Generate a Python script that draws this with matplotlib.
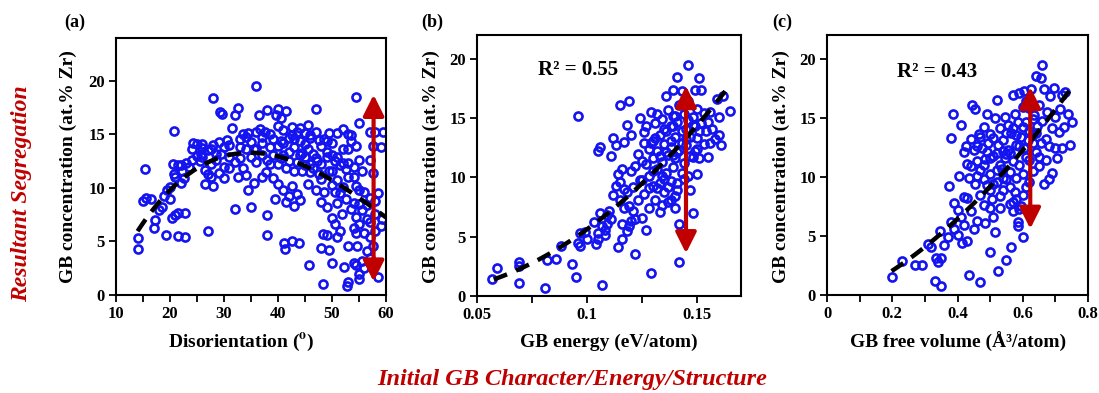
import numpy as np
import matplotlib
matplotlib.use("Agg")
import matplotlib.pyplot as plt
from matplotlib.ticker import MultipleLocator

plt.rcParams['font.family'] = ['Liberation Serif', 'DejaVu Serif']
plt.rcParams['font.weight'] = 'bold'
plt.rcParams['mathtext.fontset'] = 'stix'

# ---------------- data ----------------
# (a) disorientation (deg) vs GB concentration (at.% Zr)
dis_pts = [
    (14, 5.3), (14, 4.3), (15.3, 11.8), (15, 8.8), (15.5, 9.1), (16.5, 9.0), (17, 6.3), (17.3, 7), (18, 7.9),
    (18.5, 8.2), (18.8, 9.2), (19.2, 5.6), (19.5, 9.8), (20, 10.1), (20, 9), (20.3, 7.2), (20.5, 12.2),
    (20.8, 11.3), (20.7, 15.3), (20.9, 7.5), (21, 11), (21.5, 12.1), (21.5, 7.7), (21.5, 5.5), (22, 10.5),
    (22, 12.1), (22.3, 11.6), (22.5, 10.9), (22.7, 5.4), (22.8, 7.7), (23, 12.3), (23.5, 12), (24, 13.6),
    (24.3, 14.2), (25, 14.1), (25.5, 12.5), (25.7, 13.2), (26, 12.9), (26, 14.1), (26.5, 11.7), (26.5, 10.4),
    (27, 13.5), (27, 11.3), (27, 6), (27.5, 12.2), (27.5, 11), (28, 10.2), (28, 14), (28, 18.4), (28.5, 13.2),
    (28.5, 12.6), (29, 14.3), (29, 11.4), (29.2, 17.1), (29.6, 16.9), (30, 13.8), (30, 12), (30, 10.9),
    (30.5, 14.5), (31, 14), (31, 11.9), (31.5, 15.6), (32, 12.4), (32, 16.8), (32, 8), (32.5, 17.5), (32.5, 11),
    (33, 14.6), (33, 12.8), (33.5, 15), (33.5, 11.9), (34, 13.6), (34, 11.2), (34.5, 9.8), (34.5, 15.1),
    (35, 8.2), (35, 12.9), (35, 14.3), (35.5, 13.6), (35.5, 10.5), (36, 19.5), (36, 15.2), (36, 12.4),
    (36.5, 16.8), (36.7, 15.5), (37, 14.2), (37, 11), (37, 13.1), (37.5, 15.2), (37.8, 11.5), (38, 7.5),
    (38, 5.6), (38, 17.3), (38.5, 13.8), (38.5, 12.2), (39, 14.6), (39, 10.9), (39.5, 9), (39.7, 16.8),
    (40, 17.4), (40, 15.8), (40, 13.9), (40, 12.2), (40, 10.4), (40.5, 16.5), (40.5, 14.4), (41, 9.8),
    (41, 13.1), (41, 15.4), (41.2, 4.9), (41.3, 4.3), (41.5, 17.2), (41.5, 11.9), (41.5, 8.7), (42, 14.7),
    (42, 12.5), (42, 9.2), (42.5, 15.7), (42.5, 10.2), (42.5, 5), (43, 13.8), (43, 11.6), (43, 8.3),
    (43.5, 15.2), (43.5, 12.4), (43.5, 9.4), (43.8, 4.9), (44, 14.4), (44, 8.9), (44.5, 13.3), (44.5, 11.6),
    (45, 15.1), (45, 12.1), (45, 14.1), (45.5, 15.9), (45.5, 13.6), (45.5, 10.4), (45.8, 2.8), (46, 14.7),
    (46, 12.2), (46, 11.5), (46.5, 13.2), (47, 17.4), (47, 15.2), (47, 9.8), (47.2, 12.5), (47.5, 14.5),
    (47.5, 11.3), (48, 13.9), (48, 10.8), (48, 8.7), (48, 4.4), (48.3, 5.7), (48.4, 1), (48.5, 14.6),
    (48.5, 9.6), (49, 12.9), (49, 8.2), (49, 5.6), (49.5, 15.1), (49.5, 11.6), (49.5, 4.2), (50, 14.2),
    (50, 10.3), (50, 7.2), (50, 3), (50.5, 12.5), (50.5, 9.6), (50.5, 6.6), (51, 15.1), (51, 10.7), (51, 8.6),
    (51, 5.4), (51.5, 12.1), (51.5, 9.5), (51.5, 6), (51.8, 7.6), (52, 15.5), (52, 13.6), (52, 10.1),
    (52.3, 2.6), (52.5, 11.8), (52.5, 9), (52.8, 0.8), (53, 15), (53, 13.6), (53, 11), (53, 4.6), (53, 1.2),
    (53.5, 14.4), (53.5, 8), (53.5, 14.9), (54, 12), (54, 8.6), (54, 6.3), (54, 3), (54.5, 18.5), (54.5, 13.9),
    (54.5, 10.2), (54.5, 7.3), (54.5, 5.8), (54.5, 2.8), (54.7, 4.6), (55, 16.1), (55, 12.6), (55, 9.8),
    (55, 8.5), (55, 6.6), (55, 1.5), (55, 2), (55.5, 11.6), (55.5, 7.9), (55.5, 3.2), (56, 9.6), (56, 5.8),
    (56, 2.5), (56.5, 8.4), (56.5, 7.1), (56.5, 4.1), (57, 15.2), (57, 12.6), (57, 9.1), (57, 6.8), (57, 5.4),
    (57, 3.5), (57.5, 13.9), (57.5, 11.4), (57.5, 4.6), (58, 8.8), (58, 7.6), (58, 6), (58, 15.2), (58.5, 9.5),
    (58.5, 1.7), (59, 13.8), (59, 6.4), (59.5, 15.2), (59.3, 7.1),
    (38.5, 15), (39, 13.1), (40.5, 12.8), (41, 14.2), (42, 13.4), (42.5, 14.9), (43, 14.6), (44, 13.1),
    (44, 15.6), (45, 12.9), (46, 14.9), (46.5, 11.9), (47, 12.8), (48, 12.2), (49, 14.4), (49, 13.4),
    (50, 13.1), (50, 11.6), (51, 12.9), (52, 12.3), (53, 12.3), (54, 11), (33, 13.8), (34, 14.8), (36, 13.6),
    (37, 14.8), (38, 12.6), (31, 12.9), (29.5, 13.2), (27.5, 13.6), (26, 13.7), (25, 13), (24, 12.6),
]
dis_x = [p[0] for p in dis_pts]
dis_y = [p[1] for p in dis_pts]
# trend line (a)
dis_fit_x = [14, 18.7, 23.7, 29.9, 34.8, 43.1, 49.3, 54.9, 60]
dis_fit_y = [5.9, 9.2, 11.4, 12.8, 13.4, 12.4, 10.9, 9.2, 7.2]

# (b) GB energy (eV/atom) vs GB concentration
en_pts = [
    (0.057, 1.4), (0.059, 2.4), (0.069, 1.1), (0.069, 2.5), (0.069, 2.9), (0.081, 0.7), (0.082, 3), (0.086, 3.1),
    (0.088, 4.2), (0.093, 2.7), (0.095, 1.6), (0.096, 15.2), (0.096, 4.5), (0.097, 4.2), (0.097, 5.3),
    (0.099, 5.4), (0.1, 4.8), (0.103, 6.2), (0.104, 4.4), (0.105, 5.3), (0.105, 4.8), (0.105, 12.2), (0.106, 7),
    (0.106, 12.6), (0.107, 0.9), (0.108, 5.6), (0.108, 5.1), (0.109, 6.1), (0.11, 7.2), (0.111, 11.8),
    (0.112, 13.3), (0.113, 12.7), (0.114, 4.1), (0.114, 10.3), (0.115, 9.6), (0.115, 16.1), (0.116, 4.8),
    (0.116, 6.1), (0.117, 7.4), (0.117, 13), (0.118, 5.5), (0.118, 8.8), (0.118, 14.4), (0.119, 16.4),
    (0.119, 5.9), (0.12, 6.3), (0.12, 10.5), (0.12, 13.6), (0.121, 9.2), (0.122, 6.5), (0.122, 3.5),
    (0.123, 8.1), (0.123, 12), (0.124, 9.8), (0.124, 15), (0.125, 6.6), (0.125, 11.4), (0.126, 13.8),
    (0.126, 8.6), (0.127, 5.6), (0.127, 14.3), (0.128, 10.1), (0.128, 12.4), (0.128, 7.4), (0.129, 1.9),
    (0.129, 15.5), (0.13, 11.6), (0.13, 9.3), (0.13, 13.1), (0.131, 14.6), (0.131, 8.1), (0.132, 12.2),
    (0.132, 10.7), (0.132, 15.3), (0.133, 9.5), (0.133, 13.6), (0.134, 11.3), (0.134, 7.7), (0.134, 14.9),
    (0.135, 12.8), (0.135, 8.8), (0.136, 16.9), (0.136, 10.4), (0.136, 13.9), (0.137, 15.7), (0.137, 11.9),
    (0.137, 7.9), (0.138, 14.3), (0.138, 9.7), (0.138, 12.6), (0.139, 17.4), (0.139, 10.9), (0.139, 15.2),
    (0.14, 13.4), (0.14, 8.4), (0.14, 7.4), (0.14, 11.6), (0.141, 18.5), (0.141, 14.7), (0.141, 9.5),
    (0.142, 12.3), (0.142, 16.1), (0.142, 6.1), (0.142, 2.9), (0.143, 10.4), (0.143, 13.9), (0.143, 17.3),
    (0.144, 15.3), (0.144, 11.2), (0.145, 14.1), (0.145, 12.7), (0.146, 19.5), (0.146, 16.4), (0.146, 10.1),
    (0.147, 13.4), (0.147, 8.9), (0.148, 15.1), (0.148, 11.7), (0.148, 7), (0.149, 17.4), (0.149, 14.3),
    (0.149, 12.2), (0.15, 15.8), (0.15, 13.3), (0.15, 10.3), (0.151, 18.4), (0.151, 11.6), (0.152, 14.6),
    (0.152, 17.4), (0.153, 12.8), (0.153, 15.4), (0.154, 13.9), (0.155, 11.7), (0.155, 14.7), (0.156, 12.9),
    (0.156, 15.5), (0.157, 14.1), (0.158, 13.2), (0.159, 16.6), (0.16, 15.1), (0.16, 13.6), (0.162, 16.9),
    (0.165, 15.6), (0.161, 12.7),
    (0.126, 12.9), (0.127, 11.1), (0.129, 12.9), (0.13, 10.5), (0.131, 13.3), (0.133, 11.8), (0.134, 10.1),
    (0.135, 14.1), (0.136, 12.1), (0.137, 9.2), (0.138, 13.1), (0.139, 11.9), (0.14, 15.2), (0.141, 12.1),
    (0.143, 12.9), (0.144, 9.9), (0.145, 13.2), (0.147, 11.8), (0.148, 14.4), (0.15, 12.4), (0.151, 13.9),
    (0.146, 14.8), (0.139, 14.3), (0.132, 9.1), (0.135, 9.9), (0.128, 9.1), (0.125, 9.8), (0.122, 11),
    (0.121, 7.2), (0.119, 7.6), (0.117, 9), (0.116, 10.7), (0.115, 8.1), (0.113, 9.3), (0.112, 8.5),
    (0.111, 6.5), (0.109, 6.8), (0.107, 5.9), (0.133, 7.1), (0.138, 8.1), (0.141, 8.9),
]
en_x = [p[0] for p in en_pts]
en_y = [p[1] for p in en_pts]
en_fit_x = [0.0576, 0.0788, 0.0924, 0.106, 0.115, 0.127, 0.139, 0.151, 0.163]
en_fit_y = [1.5, 3.0, 4.4, 6.9, 7.8, 9.7, 12.0, 14.8, 17.2]

# (c) GB free volume (A^3/atom) vs GB concentration
fv_pts = [
    (0.2, 1.5), (0.23, 2.9), (0.27, 2.5), (0.29, 2.5), (0.31, 4.3), (0.32, 4.1), (0.33, 1.2), (0.335, 3.1),
    (0.34, 2.8), (0.345, 5.4), (0.35, 3.1), (0.35, 0.8), (0.36, 4.2), (0.37, 4.9), (0.375, 9.2), (0.38, 13.3),
    (0.38, 6.2), (0.385, 15.3), (0.39, 5.6), (0.39, 7.8), (0.4, 7.2), (0.4, 5.1), (0.405, 10.1), (0.41, 14.4),
    (0.41, 6.6), (0.415, 4.4), (0.42, 5.9), (0.42, 8.3), (0.42, 12.1), (0.425, 12.6), (0.43, 8.2), (0.43, 4.6),
    (0.43, 11.1), (0.435, 1.7), (0.435, 9.9), (0.44, 13.2), (0.44, 7.1), (0.445, 16.1), (0.45, 12.3),
    (0.45, 5.6), (0.455, 15.7), (0.455, 9.4), (0.46, 11.3), (0.46, 6.3), (0.465, 13.6), (0.47, 1.1),
    (0.47, 10.6), (0.47, 8.5), (0.475, 12.4), (0.48, 14.2), (0.48, 7.6), (0.485, 6.1), (0.485, 11.5),
    (0.49, 15.3), (0.49, 9.3), (0.495, 12.9), (0.5, 3.6), (0.5, 10.2), (0.5, 13.6), (0.505, 8.1), (0.51, 11.8),
    (0.51, 6.6), (0.515, 15), (0.515, 5.3), (0.52, 16.5), (0.52, 9.6), (0.525, 12.7), (0.525, 2), (0.53, 14.1),
    (0.53, 7.4), (0.535, 10.7), (0.54, 13.1), (0.54, 8.9), (0.545, 15.1), (0.545, 11.6), (0.55, 9.8),
    (0.55, 3), (0.555, 14.4), (0.555, 12.3), (0.56, 7.7), (0.56, 10.4), (0.565, 4.1), (0.565, 13.7),
    (0.57, 11.3), (0.57, 16.9), (0.575, 15.3), (0.575, 8.7), (0.58, 12.7), (0.58, 9.9), (0.585, 14.6),
    (0.585, 6.2), (0.59, 17.1), (0.59, 11), (0.595, 13.4), (0.595, 7.5), (0.6, 4.9), (0.6, 15.9), (0.6, 10.2),
    (0.605, 12.4), (0.605, 17.3), (0.61, 14.6), (0.61, 9.1), (0.615, 13.1), (0.62, 11.4), (0.62, 15.8),
    (0.625, 17.4), (0.63, 13.6), (0.63, 10.5), (0.635, 15.2), (0.64, 18.5), (0.64, 12.1), (0.645, 14.3),
    (0.65, 16.1), (0.65, 10.9), (0.655, 18.4), (0.655, 12.9), (0.66, 19.5), (0.66, 14.7), (0.665, 9.4),
    (0.665, 17.4), (0.67, 13.2), (0.67, 11.4), (0.675, 15.5), (0.68, 12.6), (0.68, 9.8), (0.685, 16.8),
    (0.69, 14.1), (0.69, 10.3), (0.695, 17.5), (0.7, 15.1), (0.7, 12.4), (0.705, 11.6), (0.71, 13.8),
    (0.715, 15.7), (0.72, 12.4), (0.72, 16.9), (0.725, 14.2), (0.74, 15.3), (0.75, 14.6), (0.745, 12.7),
    (0.73, 17.2),
    (0.46, 12.6), (0.47, 13.4), (0.48, 11), (0.49, 12.1), (0.5, 11.6), (0.51, 13.3), (0.52, 12), (0.53, 11),
    (0.54, 12.2), (0.55, 13.7), (0.56, 12), (0.57, 14.1), (0.58, 13.5), (0.59, 12.6), (0.6, 14.2), (0.61, 11.7),
    (0.62, 13.9), (0.63, 12.9), (0.64, 13.7), (0.65, 11.7), (0.52, 10.6), (0.54, 9.9), (0.56, 9.1), (0.58, 8.1),
    (0.6, 8.5), (0.48, 9.8), (0.5, 8.9), (0.46, 10.1), (0.44, 10.9), (0.53, 8.4), (0.57, 7.9), (0.62, 9.6),
    (0.59, 7.3), (0.585, 5.8), (0.57, 7.1), (0.5, 7.4), (0.51, 9.4), (0.55, 11.9), (0.61, 16.4), (0.63, 14.9),
]
fv_x = [p[0] for p in fv_pts]
fv_y = [p[1] for p in fv_pts]
fv_fit_x = [0.198, 0.306, 0.398, 0.469, 0.551, 0.633, 0.745]
fv_fit_y = [2.1, 4.1, 6.3, 8.3, 10.8, 13.4, 17.3]

# red arrows: (x, y_top, y_bottom)
arrows = [(57.7, 18.7, 1.25), (0.145, 17.7, 3.6), (0.623, 17.6, 5.6)]
r2_text = [None, "R² = 0.55", "R² = 0.43"]

W, H = 1099, 393
BLUE = '#1414f0'
RED = '#c00000'

fig = plt.figure(figsize=(W / 100, H / 100), dpi=100)


def box(l, t, r, b):
    return [l / W, 1 - b / H, (r - l) / W, (b - t) / H]


ax_a = fig.add_axes(box(116, 38, 386, 295))
ax_b = fig.add_axes(box(477, 35, 741, 296))
ax_c = fig.add_axes(box(827, 35, 1088, 295))
axes = [ax_a, ax_b, ax_c]

xs = [dis_x, en_x, fv_x]
ys = [dis_y, en_y, fv_y]
fits = [(dis_fit_x, dis_fit_y, 3), (en_fit_x, en_fit_y, 2), (fv_fit_x, fv_fit_y, 2)]
xlims = [(10, 60), (0.05, 0.17), (0, 0.8)]
ylims = [(0, 24), (0, 22), (0, 22)]
xmaj = [10, 0.05, 0.2]
xmin = [5, 0.025, 0.1]
r2_pos = [None, (578, 70), (937, 72)]

for i, ax in enumerate(axes):
    ax.plot(xs[i], ys[i], 'o', mfc='none', mec=BLUE, ms=5.8, mew=1.9, zorder=2)
    fx, fy, deg = fits[i]
    c = np.polyfit(fx, fy, deg)
    xx = np.linspace(fx[0], fx[-1], 100)
    ax.plot(xx, np.polyval(c, xx), '--', color='black', lw=3.2, dashes=(3.2, 2.2), zorder=3)
    ax.set_xlim(*xlims[i])
    ax.set_ylim(*ylims[i])
    ax.xaxis.set_major_locator(MultipleLocator(xmaj[i]))
    ax.xaxis.set_minor_locator(MultipleLocator(xmin[i]))
    ax.yaxis.set_major_locator(MultipleLocator(5))
    ax.xaxis.set_major_formatter(plt.FuncFormatter(lambda v, p: '%g' % round(v, 3)))
    ax.tick_params(direction='out', length=5, width=1.3, labelsize=12, pad=3)
    ax.tick_params(which='minor', direction='out', length=5, width=1.3)
    for s in ax.spines.values():
        s.set_linewidth(1.5)
    for lab in ax.get_xticklabels() + ax.get_yticklabels():
        lab.set_fontweight('bold')
    ax_x, top, bot = arrows[i]
    ax.annotate('', xy=(ax_x, bot), xytext=(ax_x, top),
                arrowprops=dict(arrowstyle='<|-|>,head_length=0.9,head_width=0.45', color=RED, lw=3,
                                shrinkA=0, shrinkB=0, mutation_scale=14), zorder=4)


def ftxt(x, y, s, **kw):
    fig.text(x / W, 1 - y / H, s, **kw)


for i in (1, 2):
    ftxt(r2_pos[i][0], r2_pos[i][1], r2_text[i], ha='center', va='center', fontsize=15, fontweight='bold')

for x, s in [(75, '(a)'), (432, '(b)'), (782, '(c)')]:
    ftxt(x, 22, s, ha='center', va='center', fontsize=13, fontweight='bold')
for x in (68, 431, 781):
    ftxt(x, 167, 'GB concentration (at.% Zr)', ha='center', va='center', rotation=90, fontsize=14,
         fontweight='bold')
ftxt(241, 342, 'Disorientation ($\\mathbf{^o}$)', ha='center', va='center', fontsize=14, fontweight='bold')
ftxt(609, 342, 'GB energy (eV/atom)', ha='center', va='center', fontsize=14, fontweight='bold')
ftxt(958, 342, 'GB free volume (Å³/atom)', ha='center', va='center', fontsize=14, fontweight='bold')
ftxt(22, 194, 'Resultant Segregation', ha='center', va='center', rotation=90, fontsize=17,
     fontweight='bold', style='italic', color=RED)
ftxt(572, 380, 'Initial GB Character/Energy/Structure', ha='center', va='center', fontsize=17.5,
     fontweight='bold', style='italic', color=RED)

fig.savefig('out.png', dpi=100)
